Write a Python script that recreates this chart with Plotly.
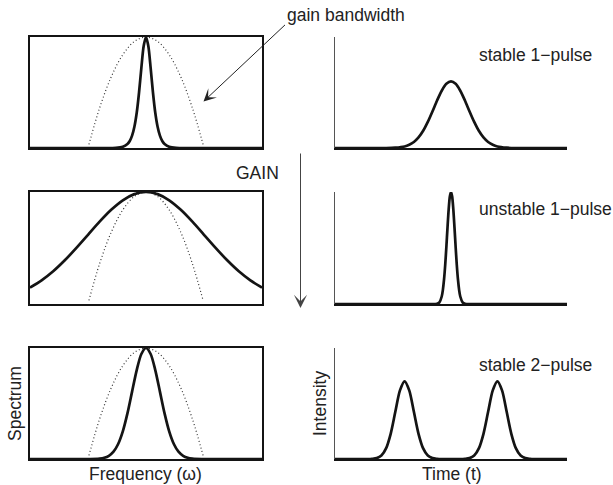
import plotly.graph_objects as go

W, H = 613, 485

# ---------------- data ----------------
# gain bandwidth (dotted parabola), same in all spectrum panels
gain_x = [25.4, 30, 35, 40, 45, 50, 55, 60, 65, 70, 74.6]
gain_y = [0.032, 0.36, 0.64, 0.84, 0.96, 1.0, 0.96, 0.84, 0.64, 0.36, 0.032]

# top-left spectrum (narrow)
spec1_x = [0, 32, 37, 40, 42, 43, 44, 45, 46, 47, 48, 49, 50, 51, 52, 53, 54, 55, 56, 57, 58, 60, 63, 68, 100]
spec1_y = [0, 0, 0.002, 0.011, 0.036, 0.063, 0.111, 0.191, 0.317, 0.500, 0.721, 0.918, 1.0,
           0.918, 0.721, 0.500, 0.317, 0.191, 0.111, 0.063, 0.036, 0.011, 0.002, 0, 0]

# middle-left spectrum (broad)
spec2_x = [0, 5, 10, 15, 20, 25, 30, 35, 40, 45, 50, 55, 60, 65, 70, 75, 80, 85, 90, 95, 100]
spec2_y = [0.146, 0.211, 0.292, 0.390, 0.501, 0.618, 0.735, 0.841, 0.926, 0.981, 1.0,
           0.981, 0.926, 0.841, 0.735, 0.618, 0.501, 0.390, 0.292, 0.211, 0.146]

# bottom-left spectrum (medium)
spec3_x = [0, 26, 30, 32, 34, 36, 38, 40, 42, 44, 46, 48, 50, 52, 54, 56, 58, 60, 62, 64, 66, 68, 70, 74, 100]
spec3_y = [0, 0, 0.004, 0.011, 0.029, 0.066, 0.135, 0.249, 0.411, 0.607, 0.801, 0.946, 1.0,
           0.946, 0.801, 0.607, 0.411, 0.249, 0.135, 0.066, 0.029, 0.011, 0.004, 0, 0]

# top-right intensity (stable 1-pulse)
int1_x = [0, 22, 26, 30, 32, 34, 36, 38, 40, 42, 44, 46, 48, 50, 52, 54, 56, 58, 60, 62, 64, 66, 68, 70, 74, 78, 100]
int1_y = [0, 0, 0.003, 0.014, 0.029, 0.054, 0.095, 0.155, 0.235, 0.329, 0.428, 0.516, 0.578, 0.6,
          0.578, 0.516, 0.428, 0.329, 0.235, 0.155, 0.095, 0.054, 0.029, 0.014, 0.003, 0, 0]

# middle-right intensity (unstable 1-pulse)
int2_x = [0, 43, 44, 45, 46, 46.5, 47, 47.5, 48, 48.5, 49, 49.5, 50, 50.5, 51, 51.5, 52, 52.5, 53, 53.5, 54, 55, 56, 57, 100]
int2_y = [0, 0, 0.002, 0.015, 0.067, 0.126, 0.219, 0.348, 0.509, 0.684, 0.845, 0.959, 1.0,
          0.959, 0.845, 0.684, 0.509, 0.348, 0.219, 0.126, 0.067, 0.015, 0.002, 0, 0]

# bottom-right intensity (stable 2-pulse)
int3_x = [0, 14, 16, 18, 20, 22, 24, 26, 28, 30, 32, 34, 36, 38, 40, 42, 44, 46, 50,
          54, 56, 58, 60, 62, 64, 66, 68, 70, 72, 74, 76, 78, 80, 82, 84, 86, 100]
int3_y = [0, 0, 0.002, 0.008, 0.031, 0.095, 0.227, 0.425, 0.618, 0.70, 0.618, 0.425, 0.227, 0.095,
          0.031, 0.008, 0.002, 0, 0,
          0, 0.002, 0.008, 0.031, 0.095, 0.227, 0.425, 0.618, 0.70, 0.618, 0.425, 0.227, 0.095,
          0.031, 0.008, 0.002, 0, 0]

panel_labels = ["stable 1\u2212pulse", "unstable 1\u2212pulse", "stable 2\u2212pulse"]

# ---------------- layout helpers ----------------
def px_x(p):
    return p / W

def px_y(p):
    return 1 - p / H

left_dom = [px_x(30), px_x(262)]
right_dom = [px_x(335), px_x(567)]
row_doms = [[px_y(148), px_y(37)], [px_y(304), px_y(192)], [px_y(459), px_y(348)]]

INK = "#141414"
FONT = dict(family="Liberation Sans, Arial, sans-serif", size=17.5, color="#222222")

fig = go.Figure()

spectra = [(spec1_x, spec1_y), (spec2_x, spec2_y), (spec3_x, spec3_y)]
intens = [(int1_x, int1_y), (int2_x, int2_y), (int3_x, int3_y)]

layout = dict(width=W, height=H, margin=dict(l=0, r=0, t=0, b=0),
              paper_bgcolor="white", plot_bgcolor="white", showlegend=False)

for r in range(3):
    # left (spectrum) panel
    i = 2 * r + 1
    xa, ya = ("x" if i == 1 else f"x{i}"), ("y" if i == 1 else f"y{i}")
    fig.add_trace(go.Scatter(x=gain_x, y=gain_y, mode="lines", xaxis=xa, yaxis=ya,
                             line=dict(color="#333333", width=1.2, dash="1px,2.5px", shape="spline"),
                             hoverinfo="skip"))
    sx, sy = spectra[r]
    fig.add_trace(go.Scatter(x=sx, y=sy, mode="lines", xaxis=xa, yaxis=ya,
                             line=dict(color=INK, width=2.7, shape="spline", smoothing=0.8),
                             hoverinfo="skip"))
    layout[f"xaxis{'' if i == 1 else i}"] = dict(domain=left_dom, range=[0, 100], showticklabels=False,
                                                showgrid=False, zeroline=False, ticks="",
                                                showline=True, mirror=True, linecolor=INK, linewidth=2,
                                                anchor=ya)
    layout[f"yaxis{'' if i == 1 else i}"] = dict(domain=row_doms[r], range=[0, 1], showticklabels=False,
                                                showgrid=False, zeroline=False, ticks="",
                                                showline=True, mirror=True, linecolor=INK, linewidth=2,
                                                anchor=xa)
    # right (intensity) panel
    j = 2 * r + 2
    xa, ya = f"x{j}", f"y{j}"
    tx, ty = intens[r]
    fig.add_trace(go.Scatter(x=tx, y=ty, mode="lines", xaxis=xa, yaxis=ya,
                             line=dict(color=INK, width=2.7, shape="spline", smoothing=0.8),
                             hoverinfo="skip"))
    layout[f"xaxis{j}"] = dict(domain=right_dom, range=[0, 100], showticklabels=False,
                               showgrid=False, zeroline=False, ticks="",
                               showline=True, linecolor=INK, linewidth=1.5, anchor=ya)
    layout[f"yaxis{j}"] = dict(domain=row_doms[r], range=[0, 1], showticklabels=False,
                               showgrid=False, zeroline=False, ticks="",
                               showline=True, linecolor="#555555", linewidth=1, anchor=xa)

fig.update_layout(**layout)

ann = []
# panel labels
label_pos = [55, 209, 365]
for lab, yy in zip(panel_labels, label_pos):
    ann.append(dict(text=lab, x=px_x(477), y=px_y(yy), xref="paper", yref="paper",
                    xanchor="left", yanchor="middle", showarrow=False, font=FONT))
ann.append(dict(text="gain bandwidth", x=px_x(285), y=px_y(15), xref="paper", yref="paper",
                xanchor="left", yanchor="middle", showarrow=False, font=FONT))
ann.append(dict(text="GAIN", x=px_x(257.5), y=px_y(172.5), xref="paper", yref="paper",
                xanchor="center", yanchor="middle", showarrow=False, font=FONT))
ann.append(dict(text="Spectrum", x=px_x(15), y=px_y(404), xref="paper", yref="paper",
                xanchor="center", yanchor="middle", textangle=-90, showarrow=False, font=FONT))
ann.append(dict(text="Intensity", x=px_x(320), y=px_y(404), xref="paper", yref="paper",
                xanchor="center", yanchor="middle", textangle=-90, showarrow=False, font=FONT))
ann.append(dict(text="Frequency (\u03c9)", x=px_x(145.5), y=px_y(474), xref="paper", yref="paper",
                xanchor="center", yanchor="middle", showarrow=False, font=FONT))
ann.append(dict(text="Time (t)", x=px_x(451.7), y=px_y(474), xref="paper", yref="paper",
                xanchor="center", yanchor="middle", showarrow=False, font=FONT))
# arrows
ann.append(dict(text="", x=px_x(203.5), y=px_y(101.5), xref="paper", yref="paper",
                ax=83, ay=-78, axref="pixel", ayref="pixel", showarrow=True,
                arrowhead=3, arrowsize=2.1, arrowwidth=1, arrowcolor="#222222", standoff=0))
ann.append(dict(text="", x=px_x(300.5), y=px_y(308), xref="paper", yref="paper",
                ax=0, ay=-156, axref="pixel", ayref="pixel", showarrow=True,
                arrowhead=3, arrowsize=2.2, arrowwidth=1, arrowcolor="#444444", standoff=0))
fig.update_layout(annotations=ann)

fig.write_html("out.html")
